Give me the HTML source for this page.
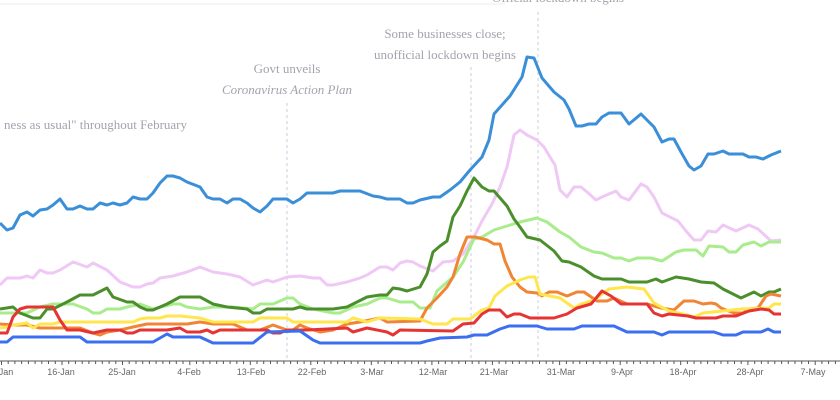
<!DOCTYPE html>
<html><head><meta charset="utf-8"><style>
body{margin:0;background:#fff;width:840px;height:400px;overflow:hidden}
svg{display:block}
.a{font-family:"Liberation Serif",serif;font-size:13px;fill:#a3a3ad}
.t{font-family:"Liberation Sans",sans-serif;font-size:9px;fill:#666}
polyline{fill:none;stroke-width:3;stroke-linejoin:round}
</style></head><body>
<svg width="840" height="400" viewBox="0 0 840 400">
<line x1="0" y1="4" x2="505" y2="4" stroke="#eee"/>
<g stroke="#c8d0dc" stroke-dasharray="3,3" stroke-width="1">
<line x1="287" y1="103" x2="287" y2="360"/>
<line x1="471" y1="67" x2="471" y2="360"/>
<line x1="538" y1="12" x2="538" y2="360"/>
</g>
<text class="a" x="187" y="129" text-anchor="end">ness as usual" throughout February</text>
<text class="a" x="287" y="73" text-anchor="middle">Govt unveils</text>
<text class="a" x="287" y="94" text-anchor="middle" font-style="italic">Coronavirus Action Plan</text>
<text class="a" x="445" y="38" text-anchor="middle">Some businesses close;</text>
<text class="a" x="445" y="59" text-anchor="middle">unofficial lockdown begins</text>
<text class="a" x="558" y="2" text-anchor="middle">Official lockdown begins</text>

<polyline stroke="#f0c8f6" points="0,285 7,278 20,278 27,276 33,278 40,270 47,273 53,273 60,270 73,262 87,267 93,263 107,270 120,282 133,287 140,287 147,284 153,283 160,278 173,276 187,272 200,267 213,272 227,274 240,277 253,285 267,280 273,282 287,277 300,276 313,278 320,278 327,285 333,285 347,282 360,278 367,275 380,267 387,267 393,270 400,263 407,261 413,262 420,266 433,271 443,262 453,261 463,254 474,237 482,221 492,204 500,187 507,167 514,135 520,130 527,135 537,140 544,147 550,157 555,165 560,190 567,197 574,187 581,187 587,192 596,200 602,197 616,191 621,197 629,200 641,184 647,187 654,197 662,213 678,221 686,231 694,240 701,240 708,231 716,232 723,225 736,231 749,225 758,229 771,241 781,240"/>
<polyline stroke="#a8ec8c" points="0,313 13,313 27,313 40,307 53,304 73,304 87,309 93,313 100,313 107,309 120,309 127,307 140,304 153,309 173,304 180,304 187,307 200,309 213,307 233,307 253,309 260,304 273,304 287,298 293,298 300,304 313,309 333,313 340,313 353,307 367,304 380,298 387,298 400,302 413,302 420,308 430,308 437,291 453,277 463,262 474,239 482,237 494,230 507,226 520,222 537,218 547,222 560,232 569,237 581,247 594,252 602,253 614,258 621,258 629,261 637,258 651,258 662,261 676,252 684,250 696,250 703,256 709,246 723,247 729,252 736,252 743,245 754,242 761,246 769,242 781,242"/>
<polyline stroke="#3a8fd8" points="0,223 7,230 13,228 20,215 27,212 33,216 40,210 47,209 53,205 60,199 67,209 73,209 80,206 87,209 93,209 100,203 107,205 113,203 120,205 127,203 133,197 140,199 147,199 153,193 160,183 167,176 173,176 180,178 187,182 200,187 207,197 213,199 220,199 227,203 233,199 240,199 247,203 253,208 260,212 267,206 273,199 287,199 293,203 300,199 307,193 333,193 340,191 360,191 373,196 380,197 387,199 400,199 407,203 413,203 420,200 433,197 440,197 450,190 460,182 470,170 482,157 489,140 494,114 502,105 510,96 522,77 527,57 534,58 542,78 554,92 564,100 569,109 576,126 582,126 589,124 596,124 602,117 609,113 621,113 629,124 641,114 654,127 662,142 669,139 674,139 681,152 689,166 694,170 701,166 708,154 714,154 723,151 729,154 743,154 749,157 756,157 763,159 771,155 781,151"/>
<polyline stroke="#4b8f2c" points="0,309 13,307 20,313 33,318 40,318 47,309 53,309 67,302 80,295 93,295 107,288 113,297 127,302 133,302 140,307 147,310 153,310 167,304 180,297 200,297 213,304 227,307 247,309 253,313 260,313 267,309 293,309 300,307 307,309 333,309 347,307 367,297 380,295 387,295 393,288 400,289 407,291 420,287 427,274 433,252 440,246 447,241 453,217 460,206 467,191 474,178 482,187 489,191 494,191 507,206 514,219 520,227 527,237 540,240 554,251 562,261 569,262 581,267 594,276 602,279 621,279 629,282 647,282 656,279 662,282 676,277 689,279 701,282 714,283 723,289 733,294 741,298 754,292 761,296 769,292 774,292 781,289"/>
<polyline stroke="#f08535" points="0,324 13,325 27,325 40,328 80,328 93,333 100,335 107,332 120,330 133,327 147,324 187,324 200,322 213,324 233,324 247,330 260,330 273,325 287,330 293,330 300,325 307,328 320,332 333,330 347,324 360,322 380,318 387,322 420,321 427,308 437,298 447,287 453,277 460,254 467,237 475,237 487,240 494,244 500,244 505,261 512,277 520,287 527,292 537,293 542,296 549,292 557,292 567,296 577,292 584,292 597,301 607,301 614,298 627,304 647,304 661,308 674,310 684,301 694,301 703,304 711,303 716,304 721,308 734,313 743,313 749,309 758,308 766,296 771,294 781,296"/>
<polyline stroke="#ffe64d" points="0,328 7,327 13,325 27,323 33,328 40,324 53,324 60,322 133,322 140,319 147,318 160,318 167,316 180,316 200,318 213,322 253,322 260,318 287,318 293,322 347,322 353,318 367,322 380,318 420,319 433,324 447,324 453,319 470,319 482,310 489,308 495,296 507,286 520,280 529,277 535,277 540,294 550,296 560,298 574,308 581,304 594,300 602,294 609,289 627,287 644,289 654,303 669,311 683,314 694,317 703,313 723,311 741,309 769,308 774,304 781,304"/>
<polyline stroke="#e63333" points="0,333 7,333 13,317 20,309 27,307 53,307 60,320 67,330 80,330 93,333 107,330 120,330 127,333 133,333 140,330 167,330 180,328 187,332 200,332 207,330 213,333 220,330 267,330 273,333 280,333 287,330 307,330 347,328 353,332 367,328 387,332 393,335 400,330 453,331 463,324 474,323 482,314 489,310 500,310 507,317 514,314 520,314 530,318 554,318 567,314 577,308 591,304 602,291 611,296 621,304 647,304 654,313 662,316 669,314 688,316 696,318 716,318 723,316 736,316 749,311 761,309 769,310 774,314 781,314"/>
<polyline stroke="#3b6ff0" points="0,342 7,342 13,337 80,337 87,342 153,342 167,334 173,337 200,337 213,343 253,343 267,332 300,331 313,340 320,343 420,343 427,341 440,338 467,337 474,335 487,335 500,329 509,326 537,326 547,329 574,329 582,326 614,326 627,332 654,332 662,335 669,332 714,332 723,335 736,335 743,332 761,332 768,329 774,332 781,332"/>

<line x1="0" y1="361" x2="840" y2="361" stroke="#555" stroke-width="1"/>
<g class="t" text-anchor="middle">
<text x="2" y="375">7-Jan</text><text x="61" y="375">16-Jan</text><text x="122" y="375">25-Jan</text><text x="189" y="375">4-Feb</text><text x="251" y="375">13-Feb</text><text x="312" y="375">22-Feb</text><text x="372" y="375">3-Mar</text><text x="433" y="375">12-Mar</text><text x="494" y="375">21-Mar</text><text x="561" y="375">31-Mar</text><text x="622" y="375">9-Apr</text><text x="683" y="375">18-Apr</text><text x="750" y="375">28-Apr</text><text x="813" y="375">7-May</text>
</g>
<path stroke="#555" stroke-width="1" d="M1.5,361v4M8.2,361v3M14.9,361v3M21.6,361v3M28.4,361v3M35.1,361v3M41.8,361v3M48.5,361v3M55.3,361v3M62,361v4M68.7,361v3M75.4,361v3M82.2,361v3M88.9,361v3M95.6,361v3M102.3,361v3M109.1,361v3M115.8,361v3M122.5,361v4M129.2,361v3M136,361v3M142.7,361v3M149.4,361v3M156.1,361v3M162.9,361v3M169.6,361v3M176.3,361v3M183,361v3M189.8,361v4M196.5,361v3M203.2,361v3M209.9,361v3M216.7,361v3M223.4,361v3M230.1,361v3M236.8,361v3M243.6,361v3M250.3,361v4M257,361v3M263.7,361v3M270.5,361v3M277.2,361v3M283.9,361v3M290.6,361v3M297.4,361v3M304.1,361v3M310.8,361v4M317.5,361v3M324.3,361v3M331,361v3M337.7,361v3M344.4,361v3M351.2,361v3M357.9,361v3M364.6,361v3M371.3,361v4M378.1,361v3M384.8,361v3M391.5,361v3M398.2,361v3M405,361v3M411.7,361v3M418.4,361v3M425.1,361v3M431.9,361v4M438.6,361v3M445.3,361v3M452,361v3M458.8,361v3M465.5,361v3M472.2,361v3M478.9,361v3M485.7,361v3M492.4,361v4M499.1,361v3M505.8,361v3M512.6,361v3M519.3,361v3M526,361v3M532.7,361v3M539.5,361v3M546.2,361v3M552.9,361v3M559.6,361v4M566.4,361v3M573.1,361v3M579.8,361v3M586.5,361v3M593.3,361v3M600,361v3M606.7,361v3M613.4,361v3M620.2,361v4M626.9,361v3M633.6,361v3M640.3,361v3M647.1,361v3M653.8,361v3M660.5,361v3M667.2,361v3M674,361v3M680.7,361v4M687.4,361v3M694.1,361v3M700.9,361v3M707.6,361v3M714.3,361v3M721,361v3M727.8,361v3M734.5,361v3M741.2,361v3M747.9,361v4M754.7,361v3M761.4,361v3M768.1,361v3M774.8,361v3M781.6,361v3M788.3,361v3M795,361v3M801.7,361v3M808.5,361v3M815.2,361v4M821.9,361v3M828.6,361v3M835.4,361v3"/>
</svg>
</body></html>
